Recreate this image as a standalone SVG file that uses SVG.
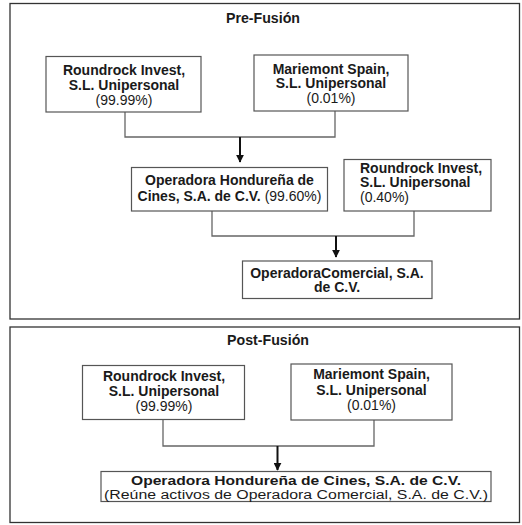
<svg xmlns="http://www.w3.org/2000/svg" width="522" height="525" viewBox="0 0 522 525">
<defs>
<style>
.panel{fill:none;stroke:#333;stroke-width:1.3}
.box{fill:#fff;stroke:#555;stroke-width:1.2}
.t{font-family:"Liberation Sans",Arial,sans-serif;font-size:14px;fill:#1a1a1a}
.s{font-size:12.5px}
.b{font-weight:bold}
.c{text-anchor:middle}
.title{font-family:"Liberation Sans",Arial,sans-serif;font-size:14.2px;font-weight:bold;fill:#1a1a1a;text-anchor:middle}
.line{fill:none;stroke:#666;stroke-width:1.3}
.arr{fill:none;stroke:#111;stroke-width:2}
</style>
<marker id="ah" viewBox="0 0 10 10" refX="9" refY="5" markerWidth="4" markerHeight="4" orient="auto" markerUnits="strokeWidth">
<path d="M0,0 L10,5 L0,10 z" fill="#111"/>
</marker>
</defs>
<rect width="522" height="525" fill="#fff"/>
<g id="pre-panel">
<rect class="panel" x="10" y="3.5" width="509.5" height="315.5"/>
<text class="title" x="263" y="23">Pre-Fusión</text>
</g>
<g id="post-panel">
<rect class="panel" x="10" y="327" width="509.5" height="195.5"/>
<text class="title" x="268" y="345">Post-Fusión</text>
</g>
<g id="connectors">
<polyline class="line" points="125,112 125,137 335,137 335,111"/>
<line class="arr" x1="240" y1="137" x2="240" y2="162" marker-end="url(#ah)"/>
<polyline class="line" points="212,211 212,236 414,236 414,211"/>
<line class="arr" x1="336" y1="236" x2="336" y2="257" marker-end="url(#ah)"/>
<polyline class="line" points="163,419 163,446 374,446 374,420"/>
<line class="arr" x1="277.5" y1="446" x2="277.5" y2="470" marker-end="url(#ah)"/>
</g>
<g id="pre-roundrock">
<rect class="box" x="46" y="56.5" width="155" height="55.5"/>
<text class="t b c" x="124" y="75">Roundrock Invest,</text>
<text class="t b c" x="124" y="89.5">S.L. Unipersonal</text>
<text class="t c" x="124" y="104.5">(99.99%)</text>
</g>
<g id="pre-mariemont">
<rect class="box" x="254" y="55" width="154" height="56"/>
<text class="t b c" x="331" y="73.5">Mariemont Spain,</text>
<text class="t b c" x="331" y="88">S.L. Unipersonal</text>
<text class="t c" x="331" y="103">(0.01%)</text>
</g>
<g id="pre-operadora-hondurena">
<rect class="box" x="131.5" y="167.5" width="196" height="43.5"/>
<text class="t b c" x="229.5" y="185">Operadora Hondureña de</text>
<text class="t c" x="229.5" y="201"><tspan class="b">Cines, S.A. de C.V.</tspan> (99.60%)</text>
</g>
<g id="pre-roundrock-2">
<rect class="box" x="344" y="159.5" width="147" height="51.5"/>
<text class="t b" x="360" y="172.5">Roundrock Invest,</text>
<text class="t b" x="360" y="187">S.L. Unipersonal</text>
<text class="t" x="360" y="202">(0.40%)</text>
</g>
<g id="pre-operadora-comercial">
<rect class="box" x="242.5" y="261" width="189.5" height="37.5"/>
<text class="t b c" x="337" y="277.5">OperadoraComercial, S.A.</text>
<text class="t b c" x="337" y="292">de C.V.</text>
</g>
<g id="post-roundrock">
<rect class="box" x="82.5" y="365.5" width="162" height="54"/>
<text class="t b c" x="164" y="381">Roundrock Invest,</text>
<text class="t b c" x="164" y="396">S.L. Unipersonal</text>
<text class="t c" x="164" y="411">(99.99%)</text>
</g>
<g id="post-mariemont">
<rect class="box" x="291" y="364" width="161" height="56"/>
<text class="t b c" x="371.5" y="379">Mariemont Spain,</text>
<text class="t b c" x="371.5" y="394.5">S.L. Unipersonal</text>
<text class="t c" x="371.5" y="410">(0.01%)</text>
</g>
<g id="post-operadora-hondurena">
<rect class="box" x="101" y="471.5" width="390" height="30"/>
<text class="t s b c" x="296" y="485" textLength="330" lengthAdjust="spacingAndGlyphs">Operadora Hondureña de Cines, S.A. de C.V.</text>
<text class="t s c" x="296" y="498.5" textLength="384" lengthAdjust="spacingAndGlyphs">(Reúne activos de Operadora Comercial, S.A. de C.V.)</text>
</g>
</svg>
